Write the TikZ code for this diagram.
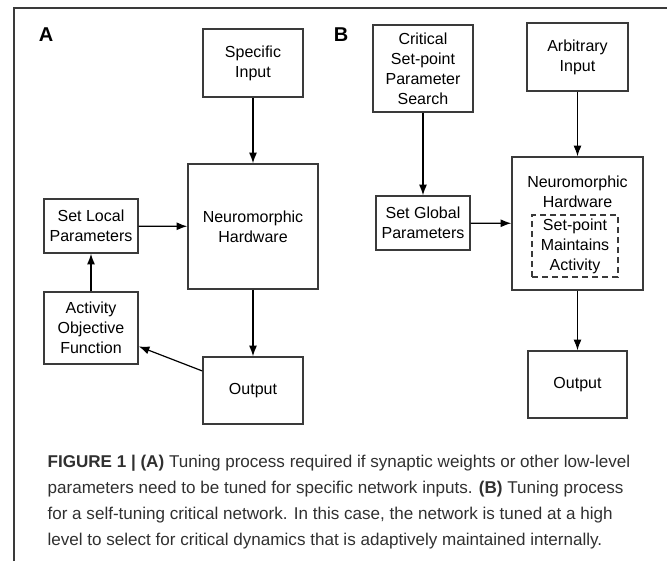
\documentclass[tikz,border=0pt]{standalone}
\usepackage{fontspec}
\setmainfont{Liberation Sans}
\usetikzlibrary{arrows.meta}
\definecolor{boxgray}{HTML}{3A3A3A}
\definecolor{capgray}{HTML}{303030}

\begin{document}
\begin{tikzpicture}
[x=0.75pt,y=-0.75pt,
 >={Latex[length=8pt,width=6pt]},
 box/.style={draw=boxgray,line width=1.1pt,inner sep=0pt,align=center,font=\fontsize{12}{15}\selectfont},
 setbox/.style={draw=boxgray,line width=1pt,dash pattern=on 4.5pt off 3pt,inner sep=0pt,align=center,font=\fontsize{12}{15}\selectfont},
 txt/.style={inner sep=0pt,align=center,font=\fontsize{12}{15}\selectfont},
 panel/.style={inner sep=0pt,font=\fontsize{15}{17}\selectfont\bfseries},
 capline/.style={anchor=base west,inner sep=0pt,text=capgray,font=\fontsize{12.8}{19.5}\selectfont},
 line width=0.9pt]
\useasboundingbox (0,0) rectangle (667,561);
\draw[boxgray,line width=1.1pt] (14,561) -- (14,8) -- (667,8);

% panel A
\node[panel] (labA) at (46,35) {A};
\node[box,minimum width=75pt,minimum height=51pt]       (spec)   at (253,63)    {Specific\\Input};
\node[box,minimum width=97.5pt,minimum height=93.75pt]  (hwA)    at (253,226.5) {Neuromorphic\\Hardware};
\node[box,minimum width=70.5pt,minimum height=40.5pt]   (setloc) at (91,226)    {Set Local\\Parameters};
\node[box,minimum width=70.5pt,minimum height=54pt]     (actobj) at (91,328)    {Activity\\Objective\\Function};
\node[box,minimum width=75pt,minimum height=50.25pt]    (outA)   at (253,390.5) {Output};
\path[->] (spec)   edge (hwA);
\path[->] (setloc) edge (hwA);
\path[->] (actobj) edge (setloc);
\path[->] (hwA)    edge (outA);
\path[->] (outA)   edge (actobj);

% panel B
\node[panel] (labB) at (341,35) {B};
\node[box,minimum width=75pt,minimum height=65.25pt]    (crit)    at (423,68.5)  {Critical\\Set-point\\Parameter\\Search};
\node[box,minimum width=70.5pt,minimum height=40.5pt]   (setglob) at (423,223)   {Set Global\\Parameters};
\node[box,minimum width=75.75pt,minimum height=51pt]    (arb)     at (577.5,57)  {Arbitrary\\Input};
\node[box,minimum width=98.25pt,minimum height=99.75pt] (hwB)     at (577.5,223.5) {};
\node[txt] (hwBlab) at (577.5,191.5) {Neuromorphic\\Hardware};
\node[setbox,minimum width=64.5pt,minimum height=46.5pt] (setpt) at (575,246) {Set-point\\Maintains\\Activity};
\node[box,minimum width=74.25pt,minimum height=50.25pt] (outB)    at (577.5,384.5) {Output};
\path[->] (crit)    edge (setglob);
\path[->] (arb)     edge (hwB);
\path[->] (setglob) edge (hwB);
\path[->] (hwB)     edge (outB);

% caption
\node[capline] (cap1) at (47,467) {\textbf{FIGURE 1 | (A)} Tuning process required if synaptic weights or other low-level};
\node[capline] (cap2) at (47,493) {parameters need to be tuned for specific network inputs. \textbf{(B)} Tuning process};
\node[capline] (cap3) at (47,519) {for a self-tuning critical network. In this case, the network is tuned at a high};
\node[capline] (cap4) at (47,545) {level to select for critical dynamics that is adaptively maintained internally.};
\end{tikzpicture}
\end{document}
